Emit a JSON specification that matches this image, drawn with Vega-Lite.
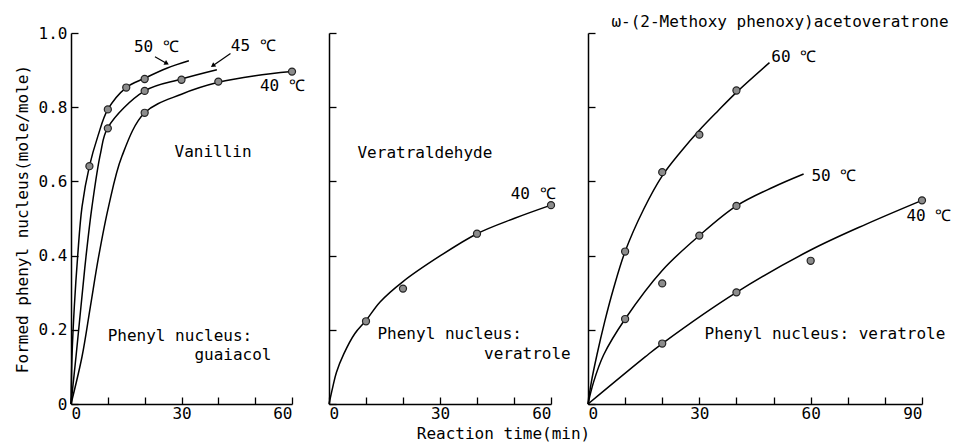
{
  "$schema": "https://vega.github.io/schema/vega-lite/v6.json",
  "padding": {"left": 14, "top": 13, "right": 5, "bottom": 3},
  "background": "white",
  "spacing": 37,
  "bounds": "flush",
  "config": {
    "view": {"stroke": null},
    "font": "DejaVu Sans Mono",
    "axis": {
      "grid": false,
      "domainColor": "black",
      "domainWidth": 1.5,
      "tickColor": "black",
      "tickWidth": 1.3,
      "tickSize": -7,
      "labelColor": "black",
      "titleColor": "black",
      "labelFont": "DejaVu Sans Mono",
      "titleFont": "DejaVu Sans Mono",
      "labelFontSize": 16,
      "titleFontSize": 16,
      "titleFontWeight": "normal"
    },
    "axisY": {"labelPadding": 11, "titlePadding": 8},
    "axisX": {"labelPadding": 8, "titlePadding": 4},
    "text": {"font": "DejaVu Sans Mono", "fontSize": 16, "color": "black", "align": "left", "baseline": "middle"}
  },
  "datasets": {
    "p1pts": [
      {"s": "50", "x": 5, "y": 0.641}, {"s": "50", "x": 10, "y": 0.794}, {"s": "50", "x": 15, "y": 0.853}, {"s": "50", "x": 20, "y": 0.876},
      {"s": "45", "x": 10, "y": 0.743}, {"s": "45", "x": 20, "y": 0.844}, {"s": "45", "x": 30, "y": 0.874},
      {"s": "40", "x": 20, "y": 0.785}, {"s": "40", "x": 40, "y": 0.869}, {"s": "40", "x": 60, "y": 0.896}
    ],
    "p1crv": [
      {"s": "50", "x": 0, "y": 0}, {"s": "50", "x": 0.27, "y": 0.128}, {"s": "50", "x": 0.9, "y": 0.262}, {"s": "50", "x": 1.8, "y": 0.397}, {"s": "50", "x": 3.0, "y": 0.532}, {"s": "50", "x": 5, "y": 0.641}, {"s": "50", "x": 7.3, "y": 0.722}, {"s": "50", "x": 10, "y": 0.794}, {"s": "50", "x": 15, "y": 0.853}, {"s": "50", "x": 20, "y": 0.878}, {"s": "50", "x": 26, "y": 0.905}, {"s": "50", "x": 32, "y": 0.925},
      {"s": "45", "x": 0, "y": 0}, {"s": "45", "x": 1.36, "y": 0.128}, {"s": "45", "x": 2.7, "y": 0.262}, {"s": "45", "x": 4.07, "y": 0.397}, {"s": "45", "x": 5.7, "y": 0.532}, {"s": "45", "x": 8, "y": 0.675}, {"s": "45", "x": 10, "y": 0.745}, {"s": "45", "x": 20, "y": 0.844}, {"s": "45", "x": 30, "y": 0.876}, {"s": "45", "x": 39.6, "y": 0.901},
      {"s": "40", "x": 0, "y": 0}, {"s": "40", "x": 3.0, "y": 0.128}, {"s": "40", "x": 5.25, "y": 0.262}, {"s": "40", "x": 7.5, "y": 0.397}, {"s": "40", "x": 10.2, "y": 0.532}, {"s": "40", "x": 13.8, "y": 0.667}, {"s": "40", "x": 20, "y": 0.785}, {"s": "40", "x": 30, "y": 0.835}, {"s": "40", "x": 40, "y": 0.867}, {"s": "40", "x": 50, "y": 0.885}, {"s": "40", "x": 60, "y": 0.896}
    ],
    "p1txt": [
      {"t": "50 ℃", "x": 17.1, "y": 0.961},
      {"t": "45 ℃", "x": 43.4, "y": 0.964},
      {"t": "40 ℃", "x": 51.3, "y": 0.857},
      {"t": "Vanillin", "x": 28.1, "y": 0.68},
      {"t": "Phenyl nucleus:", "x": 9.96, "y": 0.184},
      {"t": "guaiacol", "x": 33.5, "y": 0.132}
    ],
    "p1arr": [
      {"a": "50", "x": 22.8, "y": 0.936, "x2": 26, "y2": 0.918},
      {"a": "45", "x": 43.3, "y": 0.945, "x2": 38.5, "y2": 0.912}
    ],
    "p2pts": [
      {"s": "40", "x": 10, "y": 0.223}, {"s": "40", "x": 20, "y": 0.311}, {"s": "40", "x": 40, "y": 0.459}, {"s": "40", "x": 60, "y": 0.536}
    ],
    "p2crv": [
      {"s": "40", "x": 0, "y": 0}, {"s": "40", "x": 1.0, "y": 0.045}, {"s": "40", "x": 2.0, "y": 0.085}, {"s": "40", "x": 4.0, "y": 0.135}, {"s": "40", "x": 7.0, "y": 0.19}, {"s": "40", "x": 10, "y": 0.225}, {"s": "40", "x": 13.8, "y": 0.275}, {"s": "40", "x": 20, "y": 0.33}, {"s": "40", "x": 30, "y": 0.399}, {"s": "40", "x": 40, "y": 0.459}, {"s": "40", "x": 50, "y": 0.5}, {"s": "40", "x": 60, "y": 0.536}
    ],
    "p2txt": [
      {"t": "Veratraldehyde", "x": 7.7, "y": 0.677},
      {"t": "40 ℃", "x": 49.1, "y": 0.565},
      {"t": "Phenyl nucleus:", "x": 13.1, "y": 0.188},
      {"t": "veratrole", "x": 41.9, "y": 0.134}
    ],
    "p3pts": [
      {"s": "60", "x": 10, "y": 0.411}, {"s": "60", "x": 20, "y": 0.625}, {"s": "60", "x": 30, "y": 0.726}, {"s": "60", "x": 40, "y": 0.845},
      {"s": "50", "x": 10, "y": 0.229}, {"s": "50", "x": 20, "y": 0.325}, {"s": "50", "x": 30, "y": 0.454}, {"s": "50", "x": 40, "y": 0.534},
      {"s": "40", "x": 20, "y": 0.163}, {"s": "40", "x": 40, "y": 0.301}, {"s": "40", "x": 60, "y": 0.386}, {"s": "40", "x": 90, "y": 0.549}
    ],
    "p3crv": [
      {"s": "60", "x": 0, "y": 0}, {"s": "60", "x": 0.9, "y": 0.059}, {"s": "60", "x": 2.4, "y": 0.132}, {"s": "60", "x": 4.5, "y": 0.222}, {"s": "60", "x": 6.9, "y": 0.312}, {"s": "60", "x": 10, "y": 0.411}, {"s": "60", "x": 15, "y": 0.525}, {"s": "60", "x": 20, "y": 0.615}, {"s": "60", "x": 25, "y": 0.68}, {"s": "60", "x": 30, "y": 0.738}, {"s": "60", "x": 35, "y": 0.79}, {"s": "60", "x": 40, "y": 0.84}, {"s": "60", "x": 48.9, "y": 0.92},
      {"s": "50", "x": 0, "y": 0}, {"s": "50", "x": 1.5, "y": 0.059}, {"s": "50", "x": 4.2, "y": 0.132}, {"s": "50", "x": 10, "y": 0.229}, {"s": "50", "x": 20, "y": 0.36}, {"s": "50", "x": 30, "y": 0.454}, {"s": "50", "x": 40, "y": 0.534}, {"s": "50", "x": 50, "y": 0.585}, {"s": "50", "x": 58.1, "y": 0.62},
      {"s": "40", "x": 0, "y": 0}, {"s": "40", "x": 15.4, "y": 0.127}, {"s": "40", "x": 20, "y": 0.163}, {"s": "40", "x": 40, "y": 0.301}, {"s": "40", "x": 60, "y": 0.415}, {"s": "40", "x": 75, "y": 0.485}, {"s": "40", "x": 90, "y": 0.549}
    ],
    "p3txt": [
      {"t": "ω-(2-Methoxy phenoxy)acetoveratrone", "x": 6.3, "y": 1.03},
      {"t": "60 ℃", "x": 49.4, "y": 0.936},
      {"t": "50 ℃", "x": 60.2, "y": 0.614},
      {"t": "40 ℃", "x": 85.8, "y": 0.508},
      {"t": "Phenyl nucleus: veratrole", "x": 31.4, "y": 0.19}
    ]
  },
  "hconcat": [
    {
      "width": 221,
      "height": 371,
      "encoding": {
        "x": {"field": "x", "type": "quantitative", "scale": {"domain": [0, 60], "nice": false},
          "axis": {"values": [0, 10, 20, 30, 40, 50, 60], "labelExpr": "datum.value % 30 === 0 ? datum.label : ''", "title": null}},
        "y": {"field": "y", "type": "quantitative", "scale": {"domain": [0, 1], "nice": false},
          "axis": {"values": [0, 0.2, 0.4, 0.6, 0.8, 1.0], "labelExpr": "datum.value === 0 ? '0' : format(datum.value, '.1f')", "title": "Formed phenyl nucleus(mole/mole)"}}
      },
      "layer": [
        {"data": {"name": "p1crv"}, "mark": {"type": "line", "interpolate": "catmull-rom", "color": "black", "strokeWidth": 1.5}, "encoding": {"detail": {"field": "s"}}},
        {"data": {"name": "p1pts"}, "mark": {"type": "point", "filled": true, "size": 50, "fill": "#8c8c8c", "stroke": "#222222", "strokeWidth": 1.2, "opacity": 1}},
        {"data": {"name": "p1txt"}, "mark": {"type": "text"}, "encoding": {"text": {"field": "t"}}},
        {"data": {"name": "p1arr"}, "mark": {"type": "rule", "color": "black", "strokeWidth": 1.2}, "encoding": {"x2": {"field": "x2"}, "y2": {"field": "y2"}}},
        {"data": {"name": "p1arr"}, "transform": [{"filter": "datum.a === '50'"}], "mark": {"type": "point", "shape": "triangle-right", "filled": true, "color": "black", "size": 28, "angle": 29, "opacity": 1}, "encoding": {"x": {"field": "x2", "type": "quantitative"}, "y": {"field": "y2", "type": "quantitative"}}},
        {"data": {"name": "p1arr"}, "transform": [{"filter": "datum.a === '45'"}], "mark": {"type": "point", "shape": "triangle-right", "filled": true, "color": "black", "size": 28, "angle": 145, "opacity": 1}, "encoding": {"x": {"field": "x2", "type": "quantitative"}, "y": {"field": "y2", "type": "quantitative"}}}
      ]
    },
    {
      "width": 222,
      "height": 371,
      "encoding": {
        "x": {"field": "x", "type": "quantitative", "scale": {"domain": [0, 60], "nice": false},
          "axis": {"values": [0, 10, 20, 30, 40, 50, 60], "labelExpr": "datum.value % 30 === 0 ? datum.label : ''", "title": "Reaction time(min)", "titleX": 174}},
        "y": {"field": "y", "type": "quantitative", "scale": {"domain": [0, 1], "nice": false},
          "axis": {"values": [0, 0.2, 0.4, 0.6, 0.8, 1.0], "labels": false, "title": null}}
      },
      "layer": [
        {"data": {"name": "p2crv"}, "mark": {"type": "line", "interpolate": "catmull-rom", "color": "black", "strokeWidth": 1.5}, "encoding": {"detail": {"field": "s"}}},
        {"data": {"name": "p2pts"}, "mark": {"type": "point", "filled": true, "size": 50, "fill": "#8c8c8c", "stroke": "#222222", "strokeWidth": 1.2, "opacity": 1}},
        {"data": {"name": "p2txt"}, "mark": {"type": "text"}, "encoding": {"text": {"field": "t"}}}
      ]
    },
    {
      "width": 334,
      "height": 371,
      "encoding": {
        "x": {"field": "x", "type": "quantitative", "scale": {"domain": [0, 90], "nice": false},
          "axis": {"values": [0, 10, 20, 30, 40, 50, 60, 70, 80, 90], "labelExpr": "datum.value % 30 === 0 ? datum.label : ''", "title": null}},
        "y": {"field": "y", "type": "quantitative", "scale": {"domain": [0, 1], "nice": false},
          "axis": {"values": [0, 0.2, 0.4, 0.6, 0.8, 1.0], "labels": false, "title": null}}
      },
      "layer": [
        {"data": {"name": "p3crv"}, "mark": {"type": "line", "interpolate": "catmull-rom", "color": "black", "strokeWidth": 1.5}, "encoding": {"detail": {"field": "s"}}},
        {"data": {"name": "p3pts"}, "mark": {"type": "point", "filled": true, "size": 50, "fill": "#8c8c8c", "stroke": "#222222", "strokeWidth": 1.2, "opacity": 1}},
        {"data": {"name": "p3txt"}, "mark": {"type": "text"}, "encoding": {"text": {"field": "t"}}}
      ]
    }
  ]
}
